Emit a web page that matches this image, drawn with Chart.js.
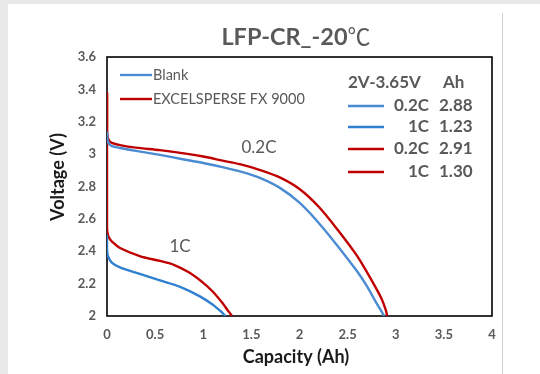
<!DOCTYPE html>
<html><head><meta charset="utf-8">
<script src="https://cdn.jsdelivr.net/npm/chart.js@4"></script>
<style>html,body{margin:0;padding:0;background:#e8e8e8;}#wrap{width:540px;height:374px;position:relative;}canvas{display:block;}</style>
</head><body><div id="wrap"><canvas id="c" width="540" height="374"></canvas></div>
<script>
// ---- data ----
const xTickLabels = ['0','0.5','1','1.5','2','2.5','3','3.5','4'];
const yTickLabels = ['2','2.2','2.4','2.6','2.8','3','3.2','3.4','3.6'];

const blank02Cap = [0, 0.005, 0.02, 0.05, 0.135, 0.3, 0.55, 0.8, 1.0, 1.2, 1.4, 1.6, 1.8, 2.0, 2.2, 2.4, 2.6, 2.7, 2.8, 2.86, 2.88];
const blank02V   = [3.14, 3.09, 3.065, 3.05, 3.038, 3.02, 2.995, 2.967, 2.945, 2.92, 2.89, 2.85, 2.79, 2.70, 2.575, 2.43, 2.275, 2.185, 2.08, 2.02, 2.0];

const blank1Cap = [0, 0, 0.01, 0.05, 0.135, 0.34, 0.55, 0.76, 0.97, 1.1, 1.18, 1.23];
const blank1V   = [2.50, 2.41, 2.37, 2.33, 2.30, 2.26, 2.22, 2.18, 2.12, 2.07, 2.03, 2.0];

const fx02Cap = [0, 0, 0.005, 0.02, 0.05, 0.135, 0.3, 0.55, 0.8, 1.0, 1.2, 1.4, 1.6, 1.8, 2.0, 2.2, 2.4, 2.6, 2.75, 2.85, 2.9, 2.91];
const fx02V   = [3.38, 3.15, 3.11, 3.085, 3.07, 3.056, 3.04, 3.025, 3.005, 2.985, 2.96, 2.935, 2.90, 2.855, 2.785, 2.675, 2.53, 2.37, 2.22, 2.11, 2.03, 2.0];

const fx1Cap = [0, 0, 0.01, 0.03, 0.06, 0.135, 0.34, 0.55, 0.7, 0.85, 1.0, 1.1, 1.2, 1.26, 1.3];
const fx1V   = [3.38, 2.54, 2.50, 2.475, 2.455, 2.42, 2.37, 2.34, 2.315, 2.27, 2.205, 2.15, 2.08, 2.03, 2.0];

const seriesNames = ['Blank', 'EXCELSPERSE FX 9000'];
const summaryRates = ['0.2C', '1C', '0.2C', '1C'];
const summaryAh = ['2.88', '1.23', '2.91', '1.30'];

const BLUE = '#4a8bd2', BLUE2 = '#2f80d0', RED = '#c00000', GRAY = '#595959';
const FONT = "Lato, 'Noto Sans CJK SC', sans-serif";

function pts(xs, ys){ return xs.map((x,i)=>({x:x, y:ys[i]})); }

const bgPlugin = {
  id:'bg',
  beforeDraw(chart){
    const ctx = chart.ctx;
    ctx.save();
    ctx.fillStyle = '#e8e8e8'; ctx.fillRect(0,0,540,374);
    ctx.fillStyle = '#ffffff'; ctx.fillRect(8,4,532,370);
    ctx.strokeStyle = '#cfcfcf'; ctx.lineWidth = 1;
    ctx.beginPath(); ctx.moveTo(502.5,13); ctx.lineTo(502.5,374); ctx.stroke();
    ctx.restore();
  },
  beforeDatasetsDraw(chart){
    const a = chart.chartArea, ctx = chart.ctx;
    ctx.save();
    ctx.strokeStyle = '#000'; ctx.lineWidth = 1.6;
    ctx.strokeRect(a.left, a.top, a.right-a.left, a.bottom-a.top);
    ctx.restore();
  },
  afterDatasetsDraw(chart){
    const ctx = chart.ctx;
    ctx.save();
    ctx.textBaseline = 'middle';
    // title
    ctx.fillStyle = GRAY; ctx.textAlign = 'left';
    ctx.font = "bold 23.5px " + FONT;
    const t1 = 'LFP-CR_-20';
    const w1 = ctx.measureText(t1).width;
    ctx.font = "23px 'Noto Sans CJK SC', sans-serif";
    const w2 = ctx.measureText('℃').width;
    const x0 = 296 - (w1 + w2)/2;
    ctx.font = "bold 23.5px " + FONT;
    ctx.fillText(t1, x0, 37);
    ctx.font = "23px 'Noto Sans CJK SC', sans-serif";
    ctx.fillText('℃', x0 + w1, 36);
    // axis titles
    ctx.textAlign = 'center';
    ctx.fillStyle = '#1a1a1a';
    ctx.font = "bold 18px " + FONT;
    ctx.fillText('Capacity (Ah)', 296, 357);
    ctx.save(); ctx.translate(58,177); ctx.rotate(-Math.PI/2);
    ctx.fillText('Voltage (V)', 0, 0); ctx.restore();
    // inner legend
    ctx.lineWidth = 2.4;
    const lg = [[BLUE,75],[RED,99]];
    ctx.font = "14.5px " + FONT; ctx.textAlign = 'left'; ctx.fillStyle = GRAY;
    lg.forEach((l,i)=>{
      ctx.strokeStyle = l[0]; ctx.beginPath(); ctx.moveTo(120,l[1]); ctx.lineTo(152,l[1]); ctx.stroke();
      ctx.fillText(seriesNames[i], 153, l[1]);
    });
    // summary box
    ctx.font = "bold 17px " + FONT;
    ctx.fillText('2V-3.65V', 348, 83);
    ctx.fillText('Ah', 443, 83);
    const ys = [106,127,149,172], cols = [BLUE,BLUE2,RED,RED];
    ys.forEach((y,i)=>{
      ctx.strokeStyle = cols[i]; ctx.beginPath(); ctx.moveTo(348,y); ctx.lineTo(384,y); ctx.stroke();
      ctx.textAlign = 'right'; ctx.fillText(summaryRates[i], 429, y);
      ctx.textAlign = 'left'; ctx.fillText(summaryAh[i], 439, y);
    });
    // curve labels
    ctx.font = "17px " + FONT; ctx.textAlign = 'center';
    ctx.fillText('0.2C', 259, 148);
    ctx.fillText('1C', 180, 247);
    ctx.restore();
  }
};

const ds = (label, data, color) => ({label, data, borderColor: color, backgroundColor: color, showLine:true, pointRadius:0, borderWidth:2.4, tension:0.3, fill:false});

new Chart(document.getElementById('c'), {
  type:'scatter',
  data:{ datasets:[
    ds('Blank 0.2C', pts(blank02Cap, blank02V), BLUE),
    ds('Blank 1C', pts(blank1Cap, blank1V), BLUE2),
    ds('FX 0.2C', pts(fx02Cap, fx02V), RED),
    ds('FX 1C', pts(fx1Cap, fx1V), RED)
  ]},
  plugins:[bgPlugin],
  options:{
    responsive:false, animation:false, devicePixelRatio:1,
    layout:{padding:{left:0, right:48, top:57, bottom:0}},
    plugins:{legend:{display:false}, tooltip:{enabled:false}, title:{display:false}},
    scales:{
      x:{type:'linear', min:0, max:4,
        afterFit(s){ s.height = 58; },
        grid:{display:false, drawTicks:false}, border:{display:false},
        ticks:{stepSize:0.5, padding:11, color:GRAY, font:{family:FONT, size:13, weight:'bold'},
          callback:(v)=>{ const i=Math.round(v/0.5); return xTickLabels[i]; }}},
      y:{type:'linear', min:2, max:3.6,
        afterFit(s){ s.width = 107; },
        grid:{display:false, drawTicks:false}, border:{display:false},
        ticks:{stepSize:0.2, padding:11, color:GRAY, font:{family:FONT, size:13, weight:'bold'},
          callback:(v)=>{ const i=Math.round((v-2)/0.2); return yTickLabels[i]; }}}
    }
  }
});
</script></body></html>
